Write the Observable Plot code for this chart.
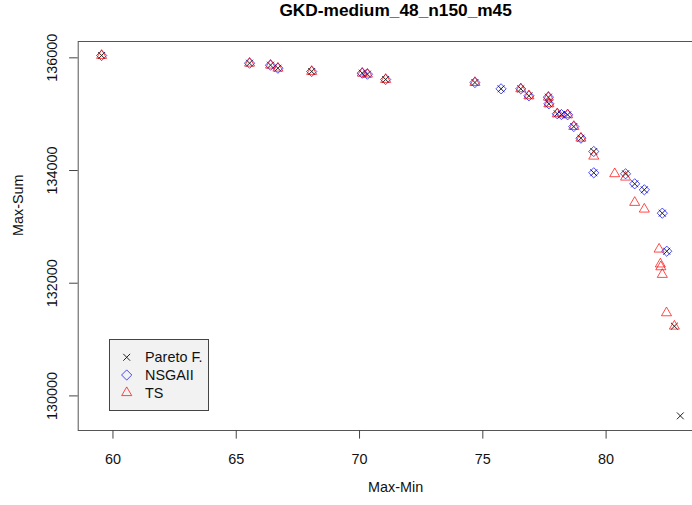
<!DOCTYPE html>
<html>
<head>
<meta charset="utf-8">
<script src="https://cdn.jsdelivr.net/npm/d3@7"></script>
<script src="https://cdn.jsdelivr.net/npm/@observablehq/plot@0.6"></script>
<style>
  body { margin: 0; background: #fff; }
  #wrap { position: relative; width: 692px; height: 505px; overflow: hidden; }
  #legend { position: absolute; left: 109px; top: 339px; }
</style>
</head>
<body>
<div id="wrap"></div>
<script>
const chartTitle = "GKD-medium_48_n150_m45";
const xLabel = "Max-Min";
const yLabel = "Max-Sum";
const seriesNames = ["Pareto F.", "NSGAII", "TS"];
const xTicks = [60, 65, 70, 75, 80];
const yTicks = [130000, 132000, 134000, 136000];

const paretoX = [59.54, 65.54, 66.39, 66.69, 68.06, 70.11, 70.32, 71.06, 74.68, 75.74, 76.54, 76.87, 77.66, 77.68, 78.02, 78.19, 78.44, 78.69, 78.98, 79.50, 79.50, 80.79, 81.16, 81.55, 82.28, 82.46, 82.77, 83.01];
const paretoY = [136042, 135905, 135870, 135816, 135758, 135728, 135710, 135616, 135562, 135450, 135450, 135326, 135302, 135184, 135007, 134994, 134989, 134781, 134574, 134338, 133960, 133942, 133764, 133658, 133243, 132568, 131237, 129646];

const nsgaX = [59.54, 65.54, 66.39, 66.69, 68.06, 70.11, 70.32, 71.06, 74.68, 75.74, 76.54, 76.87, 77.66, 77.68, 78.02, 78.19, 78.44, 78.69, 78.98, 79.50, 79.50, 80.79, 81.16, 81.55, 82.28, 82.46];
const nsgaY = [136042, 135905, 135870, 135816, 135758, 135728, 135710, 135616, 135562, 135450, 135450, 135326, 135302, 135184, 135007, 134994, 134989, 134781, 134574, 134338, 133960, 133942, 133764, 133658, 133243, 132568];

const tsX = [59.54, 65.54, 66.39, 66.69, 68.06, 70.11, 70.32, 71.06, 74.68, 76.54, 76.87, 77.66, 77.68, 78.02, 78.44, 78.69, 78.98, 79.50, 80.35, 80.79, 81.16, 81.55, 82.15, 82.20, 82.22, 82.28, 82.45, 82.77];
const tsY = [136042, 135905, 135870, 135816, 135758, 135728, 135710, 135616, 135562, 135450, 135326, 135302, 135184, 135007, 134989, 134781, 134574, 134254, 133942, 133882, 133433, 133314, 132604, 132340, 132290, 132155, 131474, 131237];

const zip = (xs, ys) => xs.map((x, i) => ({x, y: ys[i]}));
const pareto = zip(paretoX, paretoY);
const nsga = zip(nsgaX, nsgaY);
const ts = zip(tsX, tsY);

const FONT = "'Liberation Sans', Arial, Helvetica, sans-serif";
const blue = "rgba(0,0,255,0.7)";
const red = "rgba(255,0,0,0.7)";
const black = "#222";

const chart = Plot.plot({
  width: 692,
  height: 505,
  marginLeft: 77.7,
  marginRight: -10.5,
  marginTop: 41,
  marginBottom: 75,
  style: {fontFamily: FONT, fontSize: "14.4px", color: "#000", background: "#fff", overflow: "hidden"},
  x: {domain: [58.59, 83.93]},
  y: {domain: [129386, 136290]},
  marks: [
    Plot.frame({stroke: "#555", strokeWidth: 1}),
    Plot.axisX({ticks: xTicks, tickSize: 8.6, tickPadding: 15, label: null, stroke: "#444", fill: "#111", fontSize: 14.4}),
    Plot.axisY({ticks: yTicks, tickSize: 8.6, tickPadding: 17, tickRotate: -90, textAnchor: "middle", lineAnchor: "middle",
                tickFormat: d3.format("d"), label: null, stroke: "#444", fill: "#111", fontSize: 14.4}),
    Plot.text([xLabel], {frameAnchor: "bottom", dy: 61, dx: 5, fontSize: 14.4, fill: "#111"}),
    Plot.text([yLabel], {frameAnchor: "left", dx: -60, rotate: -90, fontSize: 14.4, fill: "#111"}),
    Plot.text([chartTitle], {frameAnchor: "top", dy: -38, dx: 5, fontSize: 17.3, fontWeight: "bold", fill: "#000"}),
    Plot.dot(pareto, {x: "x", y: "y", symbol: "times", r: 3.2, stroke: black, fill: "none", strokeWidth: 1}),
    Plot.dot(nsga, {x: "x", y: "y", symbol: "diamond2", r: 4.6, stroke: blue, fill: "none", strokeWidth: 1}),
    Plot.dot(ts, {x: "x", y: "y", symbol: "triangle2", r: 4.8, stroke: red, fill: "none", strokeWidth: 1})
  ]
});
const wrap = document.getElementById("wrap");
wrap.appendChild(chart);

// Legend (R-style boxed legend)
const legendItems = [
  {name: seriesNames[0], type: d3.symbolTimes, r: 3.2, color: black},
  {name: seriesNames[1], type: d3.symbolDiamond2, r: 4.6, color: blue},
  {name: seriesNames[2], type: d3.symbolTriangle2, r: 4.8, color: red}
];
const lg = d3.create("svg").attr("id", "legend").attr("width", 100).attr("height", 72)
  .style("font-family", FONT).style("font-size", "14.4px");
lg.append("rect").attr("x", 0.5).attr("y", 0.5).attr("width", 99).attr("height", 71)
  .attr("fill", "#f2f2f2").attr("stroke", "#444");
legendItems.forEach((it, i) => {
  const cy = 18.3 + i * 17.7;
  lg.append("path").attr("d", d3.symbol(it.type, Math.PI * it.r * it.r)())
    .attr("transform", `translate(17.7,${cy})`).attr("fill", "none").attr("stroke", it.color).attr("stroke-width", 1);
  lg.append("text").attr("x", 36).attr("y", cy).attr("dy", "0.35em").attr("fill", "#111").text(it.name);
});
wrap.appendChild(lg.node());
</script>
</body>
</html>
